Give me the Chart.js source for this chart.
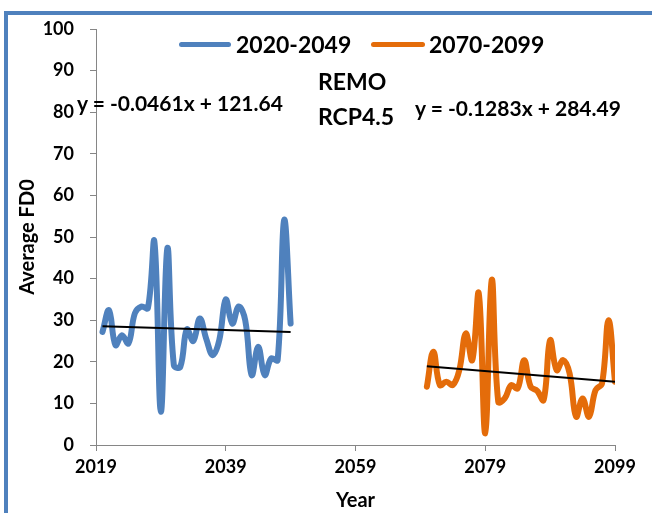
<!DOCTYPE html>
<html>
<head>
<meta charset="utf-8">
<script src="https://cdn.jsdelivr.net/npm/chart.js@4/dist/chart.umd.min.js"></script>
<style>
  html, body { margin: 0; padding: 0; background: #fff; }
  #wrap { position: relative; width: 652px; height: 513px; overflow: hidden;
          font-family: Lato, "Open Sans", sans-serif; font-weight: bold; color: #000; }
  #frame { position: absolute; left: 4px; top: 11px; right: -10px; bottom: -10px;
           border-left: 4px solid #4F81BD; border-top: 4px solid #4F81BD; }
  canvas { position: absolute; left: 0; top: 0; }
  .t { position: absolute; white-space: nowrap; line-height: 1; }
  .sw { position: absolute; height: 5px; border-radius: 3px; }
</style>
</head>
<body>
<div id="wrap">
  <div id="frame"></div>
  <canvas id="c" width="652" height="513"></canvas>

  <div class="sw" style="left:179px;top:42px;width:52px;background:#4F81BD;"></div>
  <div class="t" style="left:236px;top:33px;font-size:23px;">2020-2049</div>
  <div class="sw" style="left:371px;top:42px;width:54px;background:#E46C0A;"></div>
  <div class="t" style="left:429px;top:33px;font-size:23px;">2070-2099</div>

  <div class="t" id="eq1" style="left:77px;top:92px;font-size:21px;"></div>
  <div class="t" style="left:318px;top:70px;font-size:23px;">REMO</div>
  <div class="t" style="left:318px;top:105px;font-size:23px;">RCP4.5</div>
  <div class="t" id="eq2" style="left:415px;top:97px;font-size:21px;"></div>
</div>

<script>
// Average FD0 per year, REMO RCP4.5
const yearsNear = [2020, 2021, 2022, 2023, 2024, 2025, 2026, 2027, 2028, 2029,
                   2030, 2031, 2032, 2033, 2034, 2035, 2036, 2037, 2038, 2039,
                   2040, 2041, 2042, 2043, 2044, 2045, 2046, 2047, 2048, 2049];
const fd0Near = [27.2, 32.4, 24.0, 26.4, 24.4, 31.7, 33.3, 32.9, 48.9, 8.0,
                 47.3, 19.2, 18.8, 27.8, 25.0, 30.4, 25.5, 21.6, 25.2, 35.0,
                 29.2, 33.3, 30.0, 16.8, 23.6, 16.8, 20.8, 20.4, 54.1, 29.2];

const yearsFar = [2070, 2071, 2072, 2073, 2074, 2075, 2076, 2077, 2078, 2079,
                  2080, 2081, 2082, 2083, 2084, 2085, 2086, 2087, 2088, 2089,
                  2090, 2091, 2092, 2093, 2094, 2095, 2096, 2097, 2098, 2099];
const fd0Far = [14.0, 22.4, 14.4, 15.2, 14.4, 18.0, 26.8, 20.4, 36.5, 2.8,
                39.7, 10.4, 11.2, 14.4, 13.6, 20.4, 14.0, 13.0, 10.8, 25.2,
                18.0, 20.4, 17.2, 6.8, 11.2, 6.8, 13.2, 14.8, 30.0, 15.2];

// Linear trend coefficients [slope, intercept]
const trendNear = [-0.0461, 121.64];
const trendFar = [-0.1283, 284.49];

const seriesLabels = ['2020-2049', '2070-2099'];
const xTicks = [2019, 2039, 2059, 2079, 2099];
const yTicks = [0, 10, 20, 30, 40, 50, 60, 70, 80, 90, 100];

function eqText(t) {
  const s = t[0] < 0 ? '-' : '';
  return 'y = ' + s + Math.abs(t[0]).toFixed(4) + 'x + ' + t[1].toFixed(2);
}
document.getElementById('eq1').textContent = eqText(trendNear);
document.getElementById('eq2').textContent = eqText(trendFar);

function pts(xs, ys) { return xs.map((x, i) => ({ x: x, y: ys[i] })); }
function trendPts(t, xs) {
  const a = xs[0], b = xs[xs.length - 1];
  return [{ x: a, y: t[0] * a + t[1] }, { x: b, y: t[0] * b + t[1] }];
}

const FONT = 'Lato, "Open Sans", sans-serif';
const AXIS = '#868686';

new Chart(document.getElementById('c'), {
  type: 'line',
  data: {
    datasets: [
      { label: 'trend1', data: trendPts(trendNear, yearsNear), borderColor: '#000', borderWidth: 2,
        pointRadius: 0, tension: 0, order: 0 },
      { label: 'trend2', data: trendPts(trendFar, yearsFar), borderColor: '#000', borderWidth: 2,
        pointRadius: 0, tension: 0, order: 0 },
      { label: seriesLabels[0], data: pts(yearsNear, fd0Near), borderColor: '#4F81BD', borderWidth: 6,
        pointRadius: 0, tension: 0.4, borderCapStyle: 'round', borderJoinStyle: 'round', order: 1 },
      { label: seriesLabels[1], data: pts(yearsFar, fd0Far), borderColor: '#E46C0A', borderWidth: 6,
        pointRadius: 0, tension: 0.4, borderCapStyle: 'round', borderJoinStyle: 'round', order: 1 }
    ]
  },
  options: {
    responsive: false,
    animation: false,
    devicePixelRatio: 1,
    layout: { padding: { left: 0, right: 37, top: 29, bottom: 0 } },
    plugins: { legend: { display: false }, tooltip: { enabled: false } },
    scales: {
      x: {
        type: 'linear',
        min: xTicks[0], max: xTicks[xTicks.length - 1],
        afterBuildTicks: (s) => { s.ticks = xTicks.map(v => ({ value: v })); },
        afterFit: (s) => { s.height = 68; },
        ticks: { color: '#000', font: { family: FONT, size: 18, weight: 'bold' }, padding: 5,
                 maxRotation: 0, callback: (v) => String(v) },
        grid: { display: true, drawOnChartArea: false, drawTicks: true, tickLength: 6, color: AXIS },
        border: { color: AXIS, width: 1 },
        title: { display: true, text: 'Year', color: '#000',
                 font: { family: FONT, size: 20, weight: 'bold' }, padding: { top: 0, bottom: 0 } }
      },
      y: {
        min: yTicks[0], max: yTicks[yTicks.length - 1],
        afterBuildTicks: (s) => { s.ticks = yTicks.map(v => ({ value: v })); },
        afterFit: (s) => { s.width = 96; },
        ticks: { color: '#000', font: { family: FONT, size: 18, weight: 'bold' }, padding: 16 },
        grid: { display: true, drawOnChartArea: false, drawTicks: true, tickLength: 6, color: AXIS },
        border: { color: AXIS, width: 1 },
        title: { display: true, text: 'Average FD0', color: '#000',
                 font: { family: FONT, size: 20, weight: 'bold' }, padding: { top: 16, bottom: 0 } }
      }
    }
  }
});
</script>
</body>
</html>
